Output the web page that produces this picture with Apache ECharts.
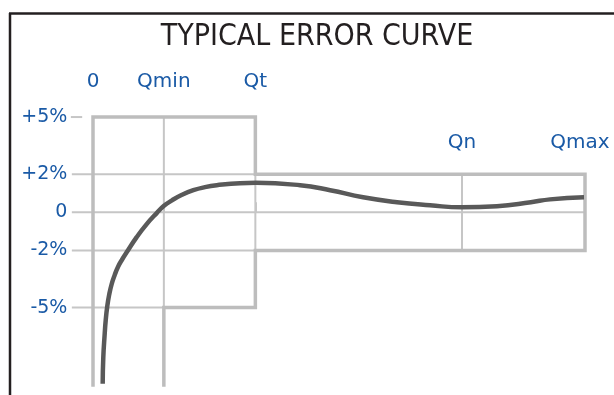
<!DOCTYPE html>
<html>
<head>
<meta charset="utf-8">
<style>
  html, body { margin: 0; padding: 0; background: #fff; }
  #main { width: 614px; height: 395px; }
</style>
<script src="https://cdn.jsdelivr.net/npm/echarts@6/dist/echarts.min.js"></script>
</head>
<body>
<div id="main"></div>
<script>
// flow points on x axis (arbitrary units, Qmax = 100)
var xLabels = ['0', 'Qmin', 'Qt', 'Qn', 'Qmax'];
var xValues = [0, 14.4, 33, 75, 100];

// error ticks
var yLabels = ['+5%', '+2%', '0', '-2%', '-5%'];
var yValues = [5, 2, 0, -2, -5];

// typical error curve
var curveX = [1.97, 2.09, 2.38, 2.58, 2.89, 3.29, 3.80, 4.41, 5.12, 5.98, 6.81, 8.88, 10.87, 12.95, 14.43, 16.06, 18.09, 20.39, 22.76, 25.14, 29.88, 33.13, 42.1, 48.2, 54.9, 61.8, 68.5, 75.0, 82.1, 89.0, 92.9, 99.8];
var curveY = [-9.0, -7.63, -6.37, -5.68, -4.95, -4.32, -3.76, -3.29, -2.84, -2.45, -2.11, -1.30, -0.63, -0.04, 0.34, 0.63, 0.92, 1.16, 1.32, 1.42, 1.53, 1.55, 1.42, 1.16, 0.79, 0.53, 0.37, 0.26, 0.32, 0.53, 0.68, 0.79];

var chart = echarts.init(document.getElementById('main'));

var blue = '#1a5aa6';
var bottomY = -9.15;
var lineStart = -4.3;
var qMin = xValues[1], qT = xValues[2], qN = xValues[3], qMax = xValues[4];

var nearest = function(list, labels, v) {
    var best = 0;
    list.forEach(function(item, i) {
        if (Math.abs(item - v) < Math.abs(list[best] - v)) best = i;
    });
    return labels[best];
};

// 细网格线
var thinSegments = [
    [[lineStart, yValues[1]], [qT, yValues[1]]],
    [[lineStart, yValues[2]], [qMax, yValues[2]]],
    [[lineStart, yValues[3]], [qT, yValues[3]]],
    [[lineStart, yValues[4]], [qMin, yValues[4]]],
    [[-4.5, yValues[0]], [-2.2, yValues[0]]],
    [[qMin, yValues[0]], [qMin, yValues[4]]],
    [[qT, yValues[1]], [qT, yValues[3]]],
    [[qN, yValues[1]], [qN, yValues[3]]]
];

// 误差包络
var envelope = [
    [0, bottomY], [0, yValues[0]], [qT, yValues[0]], [qT, yValues[1]],
    [qMax, yValues[1]], [qMax, yValues[3]], [qT, yValues[3]], [qT, yValues[4]],
    [qMin, yValues[4]], [qMin, bottomY]
];

var series = thinSegments.map(function(seg) {
    return {
        type: 'line',
        data: seg,
        symbol: 'none',
        silent: true,
        clip: false,
        lineStyle: { color: '#c6c6c6', width: 2 }
    };
});

series.push({
    type: 'line',
    data: envelope,
    symbol: 'none',
    silent: true,
    clip: false,
    lineStyle: { color: '#bdbdbd', width: 3.5, join: 'miter' }
});

series.push({
    type: 'line',
    data: curveX.map(function(x, i) { return [x, curveY[i]]; }),
    symbol: 'none',
    smooth: 0.5,
    clip: false,
    lineStyle: { color: '#595959', width: 4.5 }
});

var labelFont = {
    color: blue,
    fontFamily: 'DejaVu Sans',
    fontSize: 19
};

var option = {
    animation: false,
    backgroundColor: '#fff',
    title: {
        text: 'TYPICAL ERROR CURVE',
        left: 312,
        top: 17,
        textAlign: 'center',
        textStyle: {
            fontFamily: '"DejaVu Sans Condensed", "Liberation Sans Narrow", sans-serif',
            fontWeight: 'normal',
            fontSize: 30,
            color: '#231f20'
        }
    },
    graphic: [
        { type: 'line', shape: { x1: 10, y1: 13, x2: 10, y2: 395 }, style: { stroke: '#231f20', lineWidth: 2.5 } },
        { type: 'line', shape: { x1: 9, y1: 13.5, x2: 614, y2: 13.5 }, style: { stroke: '#231f20', lineWidth: 2.5 } }
    ],
    grid: {
        left: 68.4,
        width: 516.6,
        top: 104,
        height: 282.9,
        containLabel: false,
        outerBoundsMode: 'none'
    },
    xAxis: [{
        type: 'value',
        position: 'top',
        min: -5,
        max: 100,
        axisLine: { show: false },
        splitLine: { show: false },
        axisTick: {
            show: true,
            customValues: xValues.slice(0, 3),
            length: 10,
            lineStyle: { color: '#c6c6c6', width: 2 }
        },
        axisLabel: Object.assign({}, labelFont, {
            customValues: xValues.slice(0, 3),
            margin: 12,
            fontSize: 20,
            formatter: function(v) { return nearest(xValues, xLabels, v); }
        })
    }, {
        type: 'value',
        position: 'top',
        offset: -56,
        min: -5,
        max: 100,
        axisLine: { show: false },
        splitLine: { show: false },
        axisTick: { show: false },
        axisLabel: Object.assign({}, labelFont, {
            customValues: xValues.slice(3),
            margin: 7,
            fontSize: 20,
            formatter: function(v) {
                var text = nearest(xValues, xLabels, v);
                return v >= qMax ? '{r|' + text + '}' : text;
            },
            rich: {
                r: { color: blue, fontFamily: 'DejaVu Sans', fontSize: 20, padding: [0, 10, 0, 0] }
            }
        })
    }],
    yAxis: {
        type: 'value',
        min: bottomY - 0.01,
        max: 5.684,
        axisLine: { show: false },
        splitLine: { show: false },
        axisTick: { show: false },
        axisLabel: Object.assign({}, labelFont, {
            customValues: yValues,
            margin: 1,
            formatter: function(v) { return nearest(yValues, yLabels, v); }
        })
    },
    series: series
};

chart.setOption(option);
</script>
</body>
</html>
